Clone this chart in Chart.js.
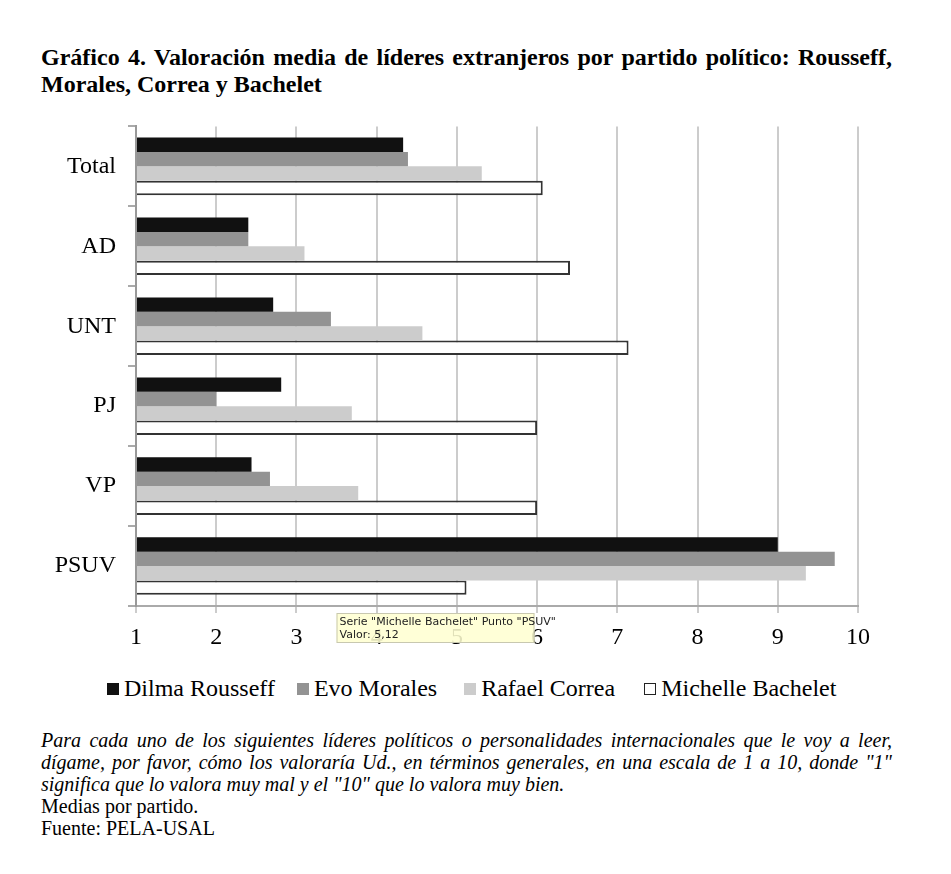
<!DOCTYPE html>
<html lang="es">
<head>
<meta charset="UTF-8">
<title>Gráfico 4</title>
<script src="https://cdn.jsdelivr.net/npm/chart.js@4.4.0/dist/chart.umd.min.js"></script>
<style>
  body { margin: 0; background: #fff; width: 951px; height: 874px; position: relative; font-family: "Liberation Serif", "Times New Roman", serif; color: #000; }
  #titulo { position: absolute; left: 41px; top: 44px; width: 851px; font-weight: bold; font-size: 24px; line-height: 27px; }
  .just { text-align: justify; text-align-last: justify; white-space: nowrap; }
  #caja { position: absolute; left: 0; top: 100px; width: 951px; height: 556px; }
  #leyenda { position: absolute; left: 107px; top: 674px; font-size: 24px; line-height: 28px; white-space: nowrap; }
  #leyenda span.box { display: inline-block; width: 12px; height: 12px; margin-right: 5px; box-sizing: border-box; vertical-align: 1px; }
  #nota { position: absolute; left: 41px; top: 729px; width: 851px; font-size: 20px; line-height: 22px; }
  #nota .it { font-style: italic; }
</style>
</head>
<body>
<div id="titulo">
  <div class="just">Gráfico 4. Valoración media de líderes extranjeros por partido político: Rousseff,</div>
  <div>Morales, Correa y Bachelet</div>
</div>
<div id="caja"><canvas id="grafico"></canvas></div>
<div id="leyenda"></div>
<div id="nota">
  <div class="it just">Para cada uno de los siguientes líderes políticos o personalidades internacionales que le voy a leer,</div>
  <div class="it just">dígame, por favor, cómo los valoraría Ud., en términos generales, en una escala de 1 a 10, donde "1"</div>
  <div class="it">significa que lo valora muy mal y el "10" que lo valora muy bien.</div>
  <div>Medias por partido.</div>
  <div>Fuente: PELA-USAL</div>
</div>
<script>
var partidos = ["Total", "AD", "UNT", "PJ", "VP", "PSUV"];
var rousseff = [4.33, 2.40, 2.71, 2.81, 2.44, 9.00];
var morales  = [4.39, 2.40, 3.43, 2.00, 2.67, 9.71];
var correa   = [5.31, 3.10, 4.57, 3.69, 3.77, 9.35];
var bachelet = [6.07, 6.41, 7.14, 6.00, 6.00, 5.12];
var lideres = ["Dilma Rousseff", "Evo Morales", "Rafael Correa", "Michelle Bachelet"];

var fuente = { family: "'Liberation Serif', 'Times New Roman', serif", size: 24 };

// leyenda en html
var colores = ["#111111", "#939393", "#cccccc", "#ffffff"];
var huecos = [22, 27, 29, 0];
var html = "";
for (var i = 0; i < lideres.length; i++) {
    var borde = i == 3 ? "border:1.5px solid #222;" : "";
    html += '<span style="margin-right:' + huecos[i] + 'px"><span class="box" style="background:' + colores[i] + ';' + borde + '"></span>' + lideres[i] + '</span>';
}
document.getElementById('leyenda').innerHTML = html;

// caja amarilla del tooltip que aparece en la captura
var globo = {
    id: 'globo',
    afterDraw: function(chart) {
        var c = chart.ctx;
        var xs = chart.scales.x;
        var x0 = xs.getPixelForValue(bachelet[5]) - 130;
        var y0 = chart.chartArea.bottom + 7;
        c.save();
        c.fillStyle = 'rgba(255,255,210,0.88)';
        c.strokeStyle = '#c8c8b0';
        c.lineWidth = 1;
        c.fillRect(x0, y0, 198, 30);
        c.strokeRect(x0 + 0.5, y0 + 0.5, 197, 29);
        c.fillStyle = '#222';
        c.font = "11px 'DejaVu Sans', sans-serif";
        c.textBaseline = 'middle';
        c.fillText('Serie "' + lideres[3] + '" Punto "' + partidos[5] + '"', x0 + 3, y0 + 9);
        c.fillText('Valor: ' + String(bachelet[5]).replace('.', ','), x0 + 3, y0 + 22);
        c.restore();
    }
};

var ctx = document.getElementById('grafico').getContext('2d');
var chart = new Chart(ctx, {
    type: 'bar',
    data: {
        labels: partidos,
        datasets: [{
            label: lideres[0],
            data: rousseff,
            backgroundColor: '#111111',
            borderWidth: 0,
            base: 1
        }, {
            label: lideres[1],
            data: morales,
            backgroundColor: '#939393',
            borderWidth: 0,
            base: 1
        }, {
            label: lideres[2],
            data: correa,
            backgroundColor: '#cccccc',
            borderWidth: 0,
            base: 1
        }, {
            label: lideres[3],
            data: bachelet,
            backgroundColor: '#ffffff',
            borderColor: '#333333',
            borderWidth: 2,
            base: 1
        }]
    },
    options: {
        indexAxis: 'y',
        responsive: true,
        maintainAspectRatio: false,
        animation: false,
        datasets: { bar: { barPercentage: 1, categoryPercentage: 0.72 } },
        layout: { padding: { top: 22, right: 93, left: 0, bottom: 0 } },
        plugins: { legend: { display: false }, tooltip: { enabled: false } },
        scales: {
            x: {
                min: 1,
                max: 10,
                ticks: { stepSize: 1, color: '#000', font: fuente, padding: 10 },
                grid: { color: '#cccccc', lineWidth: 2, tickLength: 7, tickColor: '#cccccc' },
                border: { color: '#aaaaaa', width: 2 },
                afterFit: function(s) { s.height = 50; }
            },
            y: {
                ticks: { color: '#000', font: fuente, padding: 12 },
                grid: { drawOnChartArea: false, tickLength: 8, color: '#aaaaaa', lineWidth: 2 },
                border: { color: '#999999', width: 2 },
                afterFit: function(s) { s.width = 136; }
            }
        }
    },
    plugins: [globo]
});
</script>
</body>
</html>
